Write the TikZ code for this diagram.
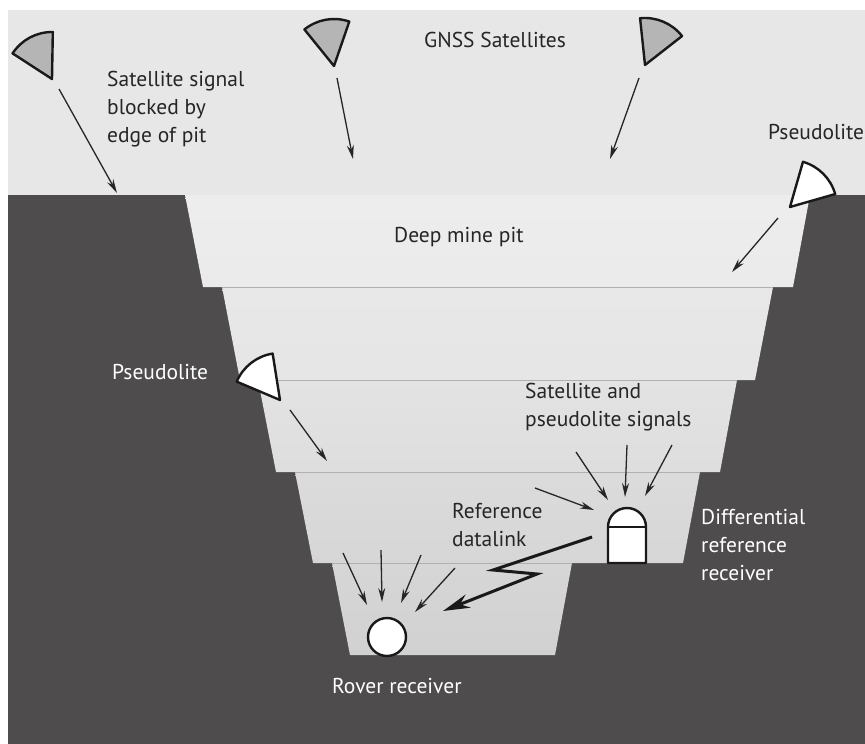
\documentclass[tikz,border=0pt]{standalone}
\usepackage{fontspec}
\setmainfont{PT Sans}
\usepackage{xcolor}
\usepackage{tikz}
\usetikzlibrary{arrows.meta}

\definecolor{skygray}{HTML}{E7E7E7}
\definecolor{rockgray}{HTML}{4E4C4D}
\definecolor{satgray}{HTML}{B5B5B5}
\definecolor{inkgray}{HTML}{262626}
\definecolor{benchline}{HTML}{B0B0B0}

\tikzset{
  pitlabel/.style={font=\fontsize{21.5}{27.8}\selectfont, text=inkgray, inner sep=0pt, align=left},
  rocklabel/.style={pitlabel, text=white},
  signal/.style={line width=1.3pt, draw=inkgray, -{Stealth[length=14pt,width=7pt]}},
  datalink/.style={line width=3pt, draw=black!90, -{Stealth[length=27pt,width=14pt]}},
  benchtop/.style={draw=benchline, line width=0.8pt},
  outline/.style={draw=black!90, line width=2.4pt, line join=round},
  dish/.pic={\draw[outline, fill=#1] (0,0) -- (-29:47) arc (-29:29:47) -- cycle;}
}

\begin{document}
\begin{tikzpicture}[x=1pt,y=-1pt]
\useasboundingbox[fill=white] (0,0) rectangle (865,744);
\fill[skygray] (8,10) rectangle (865,195);
\fill[rockgray] (8,195) rectangle (865,744);

% benches of the pit, top to bottom
\shade[top color=black!7, bottom color=black!8] (185,195) -- (810,195) -- (793,287) -- (203,287) -- cycle;
\shade[top color=black!9, bottom color=black!10] (222,287) -- (773,287) -- (755,380) -- (240,380) -- cycle;
\shade[top color=black!11, bottom color=black!13] (258,380) -- (737,380) -- (720,472) -- (276,472) -- cycle;
\shade[top color=black!14, bottom color=black!16] (295,472) -- (700,472) -- (683,563) -- (313,563) -- cycle;
\shade[top color=black!16, bottom color=black!18] (332,563) -- (572,563) -- (555,655) -- (350,655) -- cycle;
\draw[benchtop] (222,287) -- (773,287);
\draw[benchtop] (258,380) -- (737,380);
\draw[benchtop] (295,472) -- (700,472);
\draw[benchtop] (332,563) -- (572,563);

% satellites and pseudolites
\pic[rotate=118] at (52,79) {dish=satgray};
\pic[rotate=100] at (334,66) {dish=satgray};
\pic[rotate=67] at (645,65) {dish=satgray};
\pic[rotate=45] at (790,207) {dish=white};
\pic[rotate=128] at (280,400) {dish=white};

\coordinate (blockA) at (59,89);
\coordinate (blockB) at (117,193);
\coordinate (satA) at (337,78);
\coordinate (satB) at (353,159);
\coordinate (satC) at (639,78);
\coordinate (satD) at (610,159);
\coordinate (psrA) at (778,218);
\coordinate (psrB) at (732,272);
\coordinate (pslA) at (290,410);
\coordinate (pslB) at (327,461);
\draw[signal] (blockA) -- (blockB);
\draw[signal] (satA) -- (satB);
\draw[signal] (satC) -- (satD);
\draw[signal] (psrA) -- (psrB);
\draw[signal] (pslA) -- (pslB);

% reference receiver
\draw[outline, fill=white] (608,563) -- (608,527) arc (180:360:19) -- (646,563) -- cycle;
\draw[outline] (608,527) -- (646,527);
\coordinate (refrx) at (627,535);
\foreach \s/\e in {{535,488}/{594,510}, {576,452}/{608,500}, {627,445}/{625,497}, {672,445}/{645,496}}
  \draw[signal] (\s) -- (\e);

% rover receiver
\node[circle, outline, fill=white, minimum size=38pt, inner sep=0pt] (rover) at (387,637) {};
\foreach \s/\e in {{343,553}/{367,605}, {381,550}/{382,602}, {421,555}/{401,603}, {455,568}/{415,612}}
  \draw[signal] (\s) -- (\e);

\coordinate (linkA) at (592,537);
\coordinate (linkB) at (443,611);
\draw[datalink] (linkA) -- (493,570) -- (537,574) -- (linkB);

\node[pitlabel, anchor=base west] (gnss) at (424,47) {GNSS Satellites};
\node[pitlabel, anchor=north west] (blocked) at (107,71) {Satellite signal\\blocked by\\edge of pit};
\node[pitlabel, anchor=base west] (psright) at (768,139) {Pseudolite};
\node[pitlabel, anchor=base west] (pit) at (394,242) {Deep mine pit};
\node[rocklabel, anchor=base west] (psleft) at (112,379) {Pseudolite};
\node[pitlabel, anchor=north west] (signals) at (525,383) {Satellite and\\pseudolite signals};
\node[pitlabel, anchor=north west] (link) at (452,503) {Reference\\datalink};
\node[rocklabel, anchor=north west] (diff) at (701,509) {Differential\\reference\\receiver};
\node[rocklabel, anchor=base west] (roverlabel) at (332,693) {Rover receiver};
\end{tikzpicture}
\end{document}
